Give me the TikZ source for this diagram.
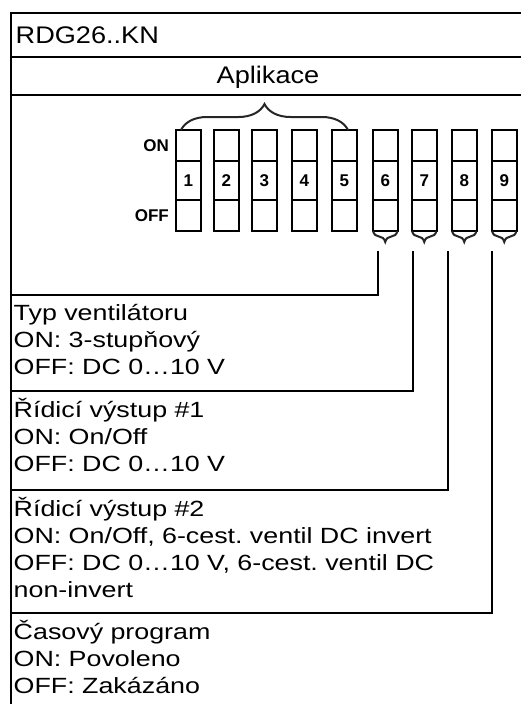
\documentclass[tikz,border=0pt]{standalone}
\usepackage{fontspec}
\setmainfont{Liberation Sans}[FakeStretch=1.22]
\newfontfamily\headfam{Liberation Sans}[FakeStretch=1.13]
\newfontfamily\keyfam{Liberation Sans}
\usetikzlibrary{decorations.pathreplacing, positioning}
\frenchspacing

\newcommand\descfont{\fontsize{22}{27}\selectfont}
\newcommand\headfont{\headfam\fontsize{24}{28}\selectfont}
\newcommand\keyfont{\keyfam\bfseries\fontsize{17}{17}\selectfont}

\begin{document}
\begin{tikzpicture}[
    x=1pt, y=-1pt,
    frame/.style={line width=2pt},
    switch/.style={draw, line width=2pt, minimum width=24.5pt, minimum height=101pt, inner sep=0pt, outer sep=0pt, font=\keyfont},
    side/.style={anchor=east, inner sep=0pt, font=\keyfont},
    desc/.style={anchor=base west, align=left, text width=500pt, inner sep=0pt, font=\descfont},
    brc/.style={decorate, decoration={brace, amplitude=#1}, line width=2pt, black!85}
]
\useasboundingbox (0,0) rectangle (521,704);

% outer frame and header rows
\draw[frame] (530,13) -- (10.5,13) -- (10.5,710);
\draw[frame] (10.5,57) -- (530,57);
\draw[frame] (10.5,95) -- (530,95);
\node[anchor=base west, inner sep=0pt, font=\headfont] (model) at (15.5,43) {RDG26..KN};
\node[anchor=base, inner sep=0pt, font=\headfont] (app) at (268,83) {Aplikace};

% DIP switches
\foreach \n/\x in {1/176,2/214,3/252,4/292,5/332,6/373,7/412,8/452,9/492}{
    \node[switch] (sw\n) at (\x+12.25,180.5) {\n};
    \draw[frame] (sw\n.west |- 0,161) -- (sw\n.east |- 0,161)
                 (sw\n.west |- 0,200) -- (sw\n.east |- 0,200);
}
\node[side] (on) at (169,145.5) {ON};
\node[side] (off) at (169,216) {OFF};

\draw[brc=26pt] ([xshift=5pt]sw1.north west) -- ([xshift=-8.5pt]sw5.north east);
\foreach \n in {6,...,9}
    \draw[brc=11pt] (sw\n.south east) -- (sw\n.south west);

% settings boxes
\coordinate (fanTop) at (10.5,294.5);
\coordinate (out1Top) at (10.5,391);
\coordinate (out2Top) at (10.5,490);
\coordinate (timerTop) at (10.5,613);

\node[desc] (fan) at (13.5,320.5) {Typ ventilátoru\\ON: 3-stupňový\\OFF: DC 0…10 V};
\node[desc] (out1) at (13.5,417) {Řídicí výstup \#1\\ON: On/Off\\OFF: DC 0…10 V};
\node[desc] (out2) at (13.5,516) {Řídicí výstup \#2\\ON: On/Off, 6-cest. ventil DC invert\\OFF: DC 0…10 V, 6-cest. ventil DC\\non-invert};
\node[desc] (timer) at (13.5,639) {Časový program\\ON: Povoleno\\OFF: Zakázáno};

\foreach \x/\b in {378/fanTop,413/out1Top,448/out2Top,492/timerTop}
    \draw[frame] (\x,251) |- (\b);
\end{tikzpicture}
\end{document}
